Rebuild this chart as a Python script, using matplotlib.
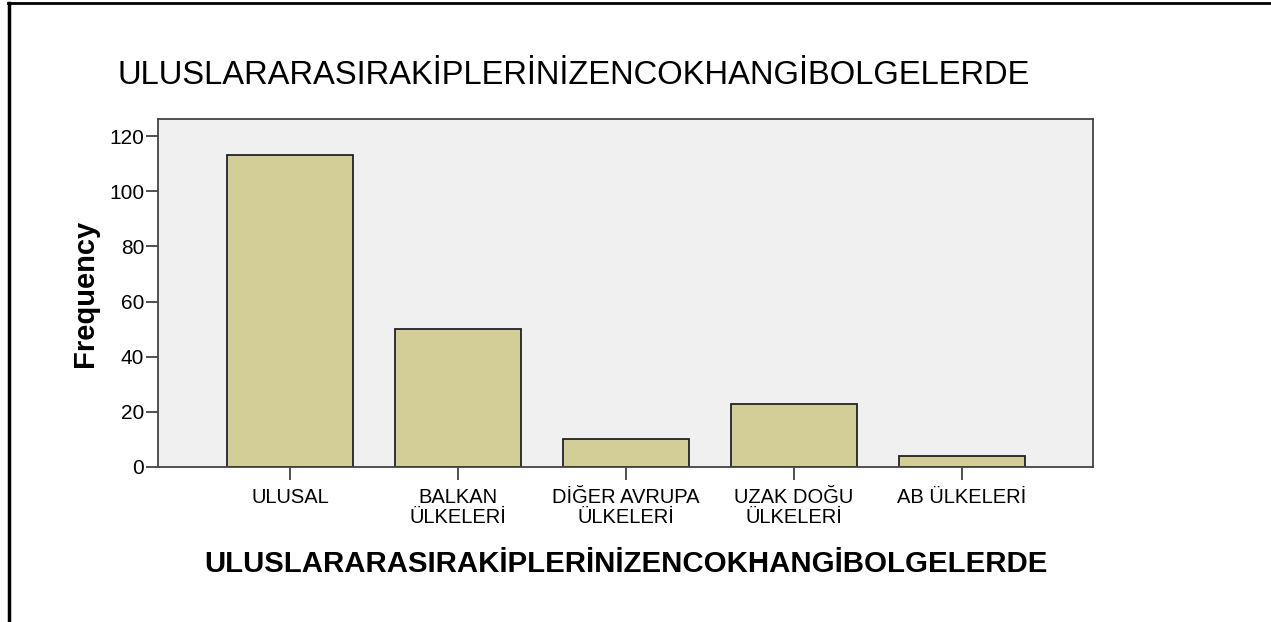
import matplotlib
matplotlib.use("Agg")
import matplotlib.pyplot as plt
from matplotlib.lines import Line2D

categories = ["ULUSAL", "BALKAN\nÜLKELERİ", "DİĞER AVRUPA\nÜLKELERİ", "UZAK DOĞU\nÜLKELERİ", "AB ÜLKELERİ"]
frequencies = [113, 50, 10, 23, 4]
y_ticks = [0, 20, 40, 60, 80, 100, 120]
title_text = "ULUSLARARASIRAKİPLERİNİZENCOKHANGİBOLGELERDE"

plt.rcParams['font.family'] = ['Liberation Sans', 'DejaVu Sans']

fig = plt.figure(figsize=(12.71, 6.22), dpi=100)
W, H = 1271, 622
ax = fig.add_axes([158 / W, 1 - 467 / H, (1093 - 158) / W, (467 - 119) / H])
ax.set_facecolor("#f0f0f0")
x = list(range(len(categories)))
ax.bar(x, frequencies, width=0.75, color="#d3ce97", edgecolor="#222222", linewidth=1.3, zorder=2)
ax.set_xlim(-0.786, 4.78)
ax.set_ylim(0, 126.2)
ax.set_yticks(y_ticks)
ax.set_xticks(x)
ax.set_xticklabels(categories, fontsize=14.5, linespacing=1.1)
ax.tick_params(axis='y', labelsize=15, length=9, width=1.2, color="#333333", pad=1)
ax.tick_params(axis='x', length=9, width=1.2, color="#333333", pad=6)
for s in ax.spines.values():
    s.set_color("#444444")
    s.set_linewidth(1.3)
ax.set_ylabel("Frequency", fontsize=21, fontweight='bold', labelpad=7)

fig.text(117 / W, 1 - 76 / H, title_text, fontsize=23.6, ha='left', va='center')
fig.text(626 / W, 1 - 564 / H, title_text, fontsize=21.2, fontweight='bold', ha='center', va='center')

# outer frame lines (top and left)
fig.add_artist(Line2D([8 / W, 1], [1 - 3 / H, 1 - 3 / H], color='black', linewidth=2, transform=fig.transFigure))
fig.add_artist(Line2D([9 / W, 9 / W], [0, 1 - 3 / H], color='black', linewidth=2.5, transform=fig.transFigure))

fig.savefig("out.png", dpi=100)
